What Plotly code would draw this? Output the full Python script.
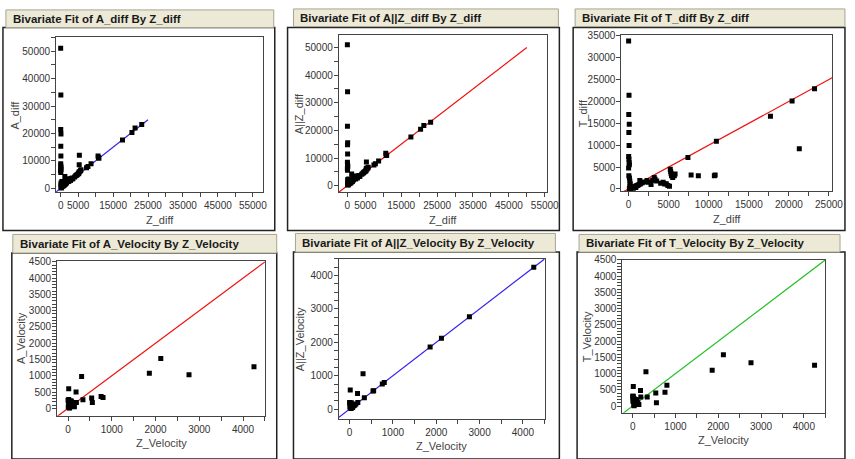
import plotly.graph_objects as go

W, H = 855, 459

# ---------------- data ----------------
Z_diff = [0, 50, 20, 80, 30, 60, 10, 40, 70, 90, 0, 30, 100, 150, 200,
          100, 200, 300, 400, 500, 600, 700, 800, 900, 1000, 1100, 1200, 1300, 1400, 1500, 250, 350, 150,
          1700, 2000, 2300, 2500, 2800, 3000, 3200, 3300, 3500, 4000, 4300, 4500, 4700, 4900, 5100,
          5200, 5250, 5300, 5350, 5500, 5700, 5800,
          7400, 7800, 8700, 10700, 10800, 10950,
          17700, 20400, 21300, 23200]
A_diff = [51000, 34000, 21500, 19800, 15400, 11800, 9000, 8200, 7600, 7000, 6400, 5800, 2000, 1500, 800,
          300, 150, 600, 1200, 800, 1500, 900, 1800, 1100, 2200, 1300, 4300, 2600, 1600, 3000, 1800, 2500, 1000,
          2000, 3200, 2500, 3500, 2900, 3600, 3400, 3800, 3500, 4200, 4600, 4800, 5000, 5200, 5400,
          5500, 6000, 8600, 12100, 6200, 6500, 6800,
          7500, 8000, 9000, 11800, 11300, 11000,
          17600, 20400, 22000, 23300]
AZ_diff = [51000, 34000, 21500, 15500, 14800, 11500, 8500, 7800, 7200, 6800, 6200, 5600, 2200, 1500, 800,
           300, 200, 500, 1100, 700, 1400, 900, 1600, 1000, 2000, 1200, 4200, 2500, 1500, 2800, 1700, 2400, 900,
           2000, 3000, 2400, 3500, 2800, 3500, 3300, 3700, 3400, 4100, 4500, 4700, 4900, 5100, 5300,
           5500, 6100, 8600, 6300, 6000, 6400, 6700,
           7500, 7900, 8900, 11700, 10900, 11000,
           17600, 20400, 21800, 23000]
T_diff = [33800, 21400, 17000, 14800, 12900, 9900, 7400, 6800, 6000, 5500, 4800, 3000, 2500, 1800, 1200,
          100, 50, 200, 300, 400, 150, 500, 600, 300, 700, 800, 900, 1000, 1900, 1200, 250, 350, 600,
          1400, 1600, 1900, 1500, 1000, 2000, 2600, 2200, 1800, 1300, 1500, 1100, 1200, 800, 600,
          4500, 4000, 3500, 3000, 2600, 3000, 3400,
          7200, 3200, 3000, 3000, 3200, 10900,
          16600, 20100, 9200, 22900]

Z_vel = [4250, 2765, 2120, 1858, 310, 15, 183, 800, 755, 540, 555, 340, 190, 145,
         0, 10, 20, 30, 5, 40, 50, 60, 70, 80, 90, 25, 35, 15, 100, 120, 65]
A_vel = [1280, 1030, 1530, 1080, 980, 605, 500, 330, 360, 315, 180, 260, 180, 50,
         250, 200, 150, 100, 50, 180, 120, 80, 60, 200, 140, 20, 10, 270, 100, 140, 230]
AZ_vel = [4250, 2765, 2120, 1858, 1060, 570, 470, 800, 755, 540, 550, 340, 200, 150,
          200, 180, 150, 100, 60, 190, 110, 80, 50, 100, 100, 30, 20, 170, 110, 120, 70]
T_vel = [1255, 1336, 1576, 1104, 1054, 602, 482, 643, 422, 402, 100, 281, 281, 50,
         300, 250, 200, 180, 150, 220, 120, 90, 60, 200, 150, 30, 10, 300, 170, 100, 180]

# fitted lines (y = x) end points per panel
fit_diff_short = [-1500, 25000]
fit_diff_long = [-2400, 50000]
fit_diff_T = [-900, 25400]
fit_vel = [-300, 4500]

titles = ["Bivariate Fit of A_diff By Z_diff",
          "Bivariate Fit of A||Z_diff By Z_diff",
          "Bivariate Fit of T_diff By Z_diff",
          "Bivariate Fit of A_Velocity By Z_Velocity",
          "Bivariate Fit of A||Z_Velocity By Z_Velocity",
          "Bivariate Fit of T_Velocity By Z_Velocity"]
xtitles = ["Z_diff", "Z_diff", "Z_diff", "Z_Velocity", "Z_Velocity", "Z_Velocity"]
ytitles = ["A_diff", "A||Z_diff", "T_diff", "A_Velocity", "A||Z_Velocity", "T_Velocity"]

# ---------------- layout geometry (pixels) ----------------
plots = [(57, 267, 32, 190), (344, 555, 30, 190), (631, 845, 30, 189),
         (58, 269, 260, 418), (344, 553, 258, 421), (632, 838, 259, 415)]
tabs = [(6, 278, 4, 22), (298, 567, 3, 21), (584, 858, 3, 21),
        (13, 281, 233, 252), (300, 564, 232, 251), (588, 853, 233, 251)]
frames = [(3, 279, 22, 229), (292, 568, 22, 229), (582, 858, 22, 229),
          (12, 281, 252, 462), (298, 568, 251, 462), (586, 858, 251, 462)]
xranges = [(-1300, 57900), (-2400, 55500), (-900, 25400),
           (-250, 4500), (-250, 4500), (-240, 4500)]
yranges = [(-1400, 55000), (-2400, 54400), (-550, 35100),
           (-230, 4530), (-290, 4500), (-210, 4500)]

def fx(p):
    return p / W

def fy(p):
    return 1 - p / H

fig = go.Figure()

panel_data = [(Z_diff, A_diff, fit_diff_short, "#3322EE"),
              (Z_diff, AZ_diff, fit_diff_long, "#EE1111"),
              (Z_diff, T_diff, fit_diff_T, "#EE1111"),
              (Z_vel, A_vel, fit_vel, "#EE1111"),
              (Z_vel, AZ_vel, fit_vel, "#3322EE"),
              (Z_vel, T_vel, fit_vel, "#22C022")]

for i, (xs, ys, fit, col) in enumerate(panel_data):
    k = "" if i == 0 else str(i + 1)
    fig.add_trace(go.Scatter(x=fit, y=fit, mode="lines", line=dict(color=col, width=1.2),
                             xaxis="x" + k, yaxis="y" + k, hoverinfo="skip"))
    fig.add_trace(go.Scatter(x=xs, y=ys, mode="markers",
                             marker=dict(symbol="square", size=5, color="black"),
                             xaxis="x" + k, yaxis="y" + k))

def ticks(vals, labeled):
    return dict(tickmode="array", tickvals=vals,
                ticktext=[(f"{v}" if v in labeled else "") for v in vals])

xt = [
    ticks(list(range(0, 55001, 5000)), [0, 5000, 15000, 25000, 35000, 45000, 55000]),
    ticks(list(range(0, 55001, 5000)), [0, 5000, 15000, 25000, 35000, 45000, 55000]),
    ticks(list(range(0, 25001, 2500)), list(range(0, 25001, 5000))),
    ticks(list(range(0, 4501, 500)), list(range(0, 4001, 1000))),
    ticks(list(range(0, 4501, 500)), list(range(0, 4001, 1000))),
    ticks(list(range(0, 4501, 500)), list(range(0, 4001, 1000))),
]
yt = [
    ticks(list(range(0, 55001, 5000)), list(range(0, 50001, 10000))),
    ticks(list(range(0, 55001, 5000)), list(range(0, 50001, 10000))),
    ticks(list(range(0, 35001, 5000)), list(range(0, 35001, 5000))),
    ticks(list(range(0, 4501, 100)), list(range(0, 4501, 500))),
    ticks(list(range(0, 4501, 250)), list(range(0, 4001, 1000))),
    ticks(list(range(0, 4501, 100)), list(range(0, 4501, 500))),
]

shapes = []
annotations = []
layout = dict(width=W, height=H, margin=dict(l=0, r=0, t=0, b=0),
              paper_bgcolor="white", plot_bgcolor="white", showlegend=False,
              font=dict(family="Liberation Sans, Arial, sans-serif", size=10, color="#333"))

for i in range(6):
    k = "" if i == 0 else str(i + 1)
    l, r, t, b = plots[i]
    ax = dict(domain=[fx(l), fx(r)], anchor="y" + k, range=list(xranges[i]),
              showgrid=False, zeroline=False, showline=True, linecolor="#444", linewidth=1,
              mirror=True, ticks="outside", ticklen=4, tickcolor="#444",
              tickfont=dict(size=10, color="#333"), **xt[i])
    ay = dict(domain=[fy(b), fy(t)], anchor="x" + k, range=list(yranges[i]),
              showgrid=False, zeroline=False, showline=True, linecolor="#444", linewidth=1,
              mirror=True, ticks="outside", ticklen=4, tickcolor="#444", ticklabelstandoff=-1,
              tickfont=dict(size=10, color="#333"), **yt[i])
    layout["xaxis" + k] = ax
    layout["yaxis" + k] = ay

    fl, fr, ft, fb = frames[i]
    shapes.append(dict(type="rect", xref="paper", yref="paper",
                       x0=fx(fl), x1=fx(fr), y0=fy(fb), y1=fy(ft),
                       line=dict(color="#222", width=1.5), fillcolor="rgba(0,0,0,0)", layer="below"))
    tl, tr, tt, tb = tabs[i]
    shapes.append(dict(type="rect", xref="paper", yref="paper",
                       x0=fx(tl), x1=fx(tr), y0=fy(tb), y1=fy(tt),
                       line=dict(color="#A8A490", width=1), fillcolor="#ECE9D6", layer="below"))
    annotations.append(dict(text="<b>" + titles[i] + "</b>", xref="paper", yref="paper",
                            x=fx(tl + 5), y=fy((tt + tb) / 2), xanchor="left", yanchor="middle",
                            showarrow=False, font=dict(size=11.5, color="#1a1a1a")))
    annotations.append(dict(text=xtitles[i], xref="paper", yref="paper",
                            x=fx((l + r) / 2), y=fy(b + 28), xanchor="center", yanchor="middle",
                            showarrow=False, font=dict(size=11, color="#444")))

ytitle_x = [15, 303, 592, 22, 304, 596]
for i in range(6):
    l, r, t, b = plots[i]
    annotations.append(dict(text=ytitles[i], xref="paper", yref="paper", textangle=-90,
                            x=fx(ytitle_x[i]), y=fy((t + b) / 2), xanchor="center", yanchor="middle",
                            showarrow=False, font=dict(size=11, color="#444")))

layout["shapes"] = shapes
layout["annotations"] = annotations
fig.update_layout(**layout)
fig.write_html("out.html")
